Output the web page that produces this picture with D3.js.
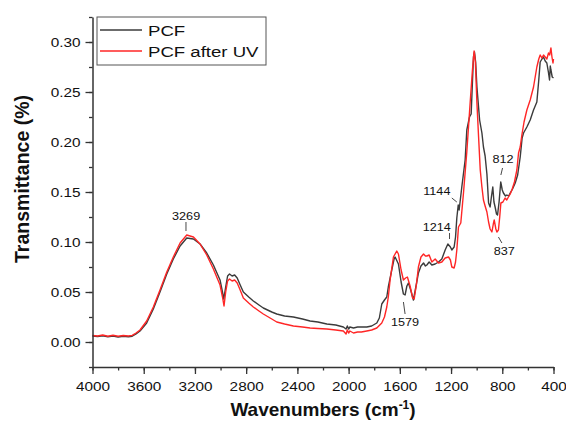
<!DOCTYPE html>
<html>
<head>
<meta charset="utf-8">
<script src="https://cdn.jsdelivr.net/npm/d3@7"></script>
<style>
html,body{margin:0;padding:0;background:#fff;}
svg{display:block;}
text{font-family:"Liberation Sans",Arial,sans-serif;fill:#111;}
</style>
</head>
<body>
<svg id="chart" width="566" height="423"></svg>
<script>
// ---------- data ----------
const seriesNames = ["PCF", "PCF after UV"];

const pcfWavenumbers = [4000,3960,3920,3880,3840,3800,3760,3720,3690,3660,3629,3577,3525,3473,3420,3369,3316,3264,3212,3160,3108,3056,3004,2985,2975,2960,2945,2930,2910,2890,2870,2850,2822,2780,2744,2700,2666,2600,2561,2500,2431,2360,2301,2240,2170,2100,2041,2020,2010,2000,1990,1962,1930,1900,1858,1820,1780,1760,1741,1720,1702,1690,1663,1645,1637,1611,1590,1572,1559,1545,1533,1515,1494,1475,1455,1435,1415,1400,1389,1371,1350,1324,1298,1272,1246,1225,1205,1194,1176,1165,1155,1144,1137,1116,1090,1077,1056,1043,1033,1025,1017,1008,998,977,959,947,934,920,907,895,885,874,865,856,845,837,825,812,800,791,775,764,750,738,720,699,680,660,645,634,608,582,556,530,515,504,490,478,465,452,440,431,425,420,410,400];
const pcfValues = [0.0060,0.0055,0.0062,0.0052,0.0060,0.0050,0.0058,0.0052,0.0058,0.0080,0.0110,0.0190,0.0330,0.0500,0.0680,0.0830,0.0960,0.1040,0.1030,0.0980,0.0890,0.0770,0.0620,0.0500,0.0430,0.0550,0.0660,0.0680,0.0660,0.0670,0.0640,0.0580,0.0500,0.0450,0.0410,0.0370,0.0340,0.0300,0.0280,0.0260,0.0250,0.0230,0.0210,0.0200,0.0180,0.0170,0.0150,0.0130,0.0160,0.0130,0.0150,0.0140,0.0150,0.0150,0.0150,0.0160,0.0190,0.0240,0.0380,0.0420,0.0450,0.0550,0.0720,0.0830,0.0850,0.0780,0.0600,0.0480,0.0470,0.0560,0.0590,0.0520,0.0420,0.0550,0.0690,0.0760,0.0790,0.0760,0.0770,0.0800,0.0770,0.0780,0.0800,0.0830,0.0920,0.0980,0.0950,0.0920,0.0950,0.1050,0.1240,0.1370,0.1320,0.1550,0.1820,0.2120,0.2250,0.2280,0.2600,0.2850,0.2900,0.2800,0.2550,0.2220,0.2090,0.1950,0.1860,0.1680,0.1390,0.1350,0.1450,0.1550,0.1400,0.1350,0.1280,0.1270,0.1400,0.1600,0.1520,0.1490,0.1460,0.1470,0.1460,0.1490,0.1530,0.1590,0.1670,0.1850,0.2040,0.2090,0.2150,0.2220,0.2320,0.2400,0.2620,0.2800,0.2830,0.2850,0.2810,0.2790,0.2700,0.2620,0.2760,0.2720,0.2650,0.2640];

const uvWavenumbers = [4000,3960,3920,3880,3840,3800,3760,3720,3690,3660,3629,3577,3525,3473,3420,3369,3316,3264,3212,3160,3108,3056,3004,2985,2973,2960,2945,2930,2910,2890,2870,2850,2822,2780,2744,2700,2666,2600,2561,2500,2431,2360,2301,2240,2170,2100,2041,2020,2010,2000,1990,1962,1930,1900,1858,1820,1780,1741,1720,1702,1690,1676,1650,1624,1611,1590,1572,1555,1541,1520,1500,1488,1470,1455,1435,1415,1400,1389,1371,1350,1324,1298,1272,1246,1220,1205,1194,1176,1165,1155,1142,1124,1103,1077,1051,1033,1020,1010,998,985,972,959,947,934,920,907,895,881,870,863,850,842,830,820,811,795,778,765,752,738,725,705,686,673,660,647,630,608,582,556,530,515,504,490,478,465,452,439,430,420,412,404,400];
const uvValues = [0.0065,0.0060,0.0070,0.0058,0.0068,0.0058,0.0065,0.0060,0.0066,0.0090,0.0120,0.0210,0.0350,0.0520,0.0700,0.0850,0.0990,0.1070,0.1050,0.0980,0.0870,0.0730,0.0570,0.0450,0.0360,0.0500,0.0610,0.0630,0.0610,0.0620,0.0590,0.0530,0.0440,0.0390,0.0350,0.0310,0.0280,0.0230,0.0200,0.0180,0.0160,0.0150,0.0140,0.0135,0.0130,0.0120,0.0110,0.0080,0.0120,0.0090,0.0110,0.0090,0.0100,0.0100,0.0110,0.0120,0.0140,0.0190,0.0250,0.0350,0.0450,0.0620,0.0850,0.0910,0.0880,0.0720,0.0620,0.0640,0.0650,0.0560,0.0440,0.0430,0.0580,0.0750,0.0850,0.0880,0.0860,0.0860,0.0870,0.0800,0.0830,0.0790,0.0800,0.0840,0.0850,0.0820,0.0750,0.0740,0.0800,0.0920,0.1150,0.1190,0.1490,0.1900,0.2390,0.2720,0.2910,0.2800,0.2390,0.2050,0.1720,0.1550,0.1420,0.1360,0.1300,0.1200,0.1130,0.1100,0.1180,0.1220,0.1130,0.1100,0.1120,0.1250,0.1390,0.1400,0.1440,0.1420,0.1450,0.1480,0.1520,0.1600,0.1720,0.1890,0.1950,0.2070,0.2200,0.2320,0.2420,0.2550,0.2750,0.2830,0.2870,0.2840,0.2870,0.2850,0.2830,0.2890,0.2870,0.2940,0.2850,0.2790,0.2830];

const xTickValues = [4000,3600,3200,2800,2400,2000,1600,1200,800,400];
const yTickValues = [0.00,0.05,0.10,0.15,0.20,0.25,0.30];

// peak annotations: label, text anchor (wavenumber, value), pointer line (wn1,v1,wn2,v2)
const peakLabels = ["3269","1579","1214","1144","812","837"];
const peakTextWn = [3269,1559,1311,1311,795,785];
const peakTextVal = [0.122,0.016,0.111,0.147,0.1795,0.087];
const peakLineFrom = [[3270,0.120],[1572,0.040],[1212,0.109],[1194,0.144],[798,0.174],[830,0.105]];
const peakLineTo = [[3270,0.111],[1559,0.028],[1212,0.103],[1155,0.140],[811,0.167],[803,0.099]];

// ---------- layout ----------
const svg = d3.select("#chart");
const x = d3.scaleLinear().domain([4000, 400]).range([92.5, 553.5]);
const y = d3.scaleLinear().domain([-0.025, 0.325]).range([367, 17]);
const colors = ["#3b3b3b", "#ff2626"];
const axisColor = "#333";
const SX = 1.18;

// curves
const line = d3.line().x(d => x(d[0])).y(d => y(d[1]));
const pcf = pcfWavenumbers.map((w, i) => [w, pcfValues[i]]);
const uv = uvWavenumbers.map((w, i) => [w, uvValues[i]]);
svg.append("path").datum(pcf).attr("d", line).attr("fill", "none")
  .attr("stroke", colors[0]).attr("stroke-width", 1.4).attr("stroke-linejoin", "round");
svg.append("path").datum(uv).attr("d", line).attr("fill", "none")
  .attr("stroke", colors[1]).attr("stroke-width", 1.4).attr("stroke-linejoin", "round");

// axes
function styleAxis(g) {
  g.select(".domain").attr("stroke", axisColor).attr("stroke-width", 1.5);
  g.selectAll(".tick line").attr("stroke", axisColor).attr("stroke-width", 1.3);
}
const xMinor = d3.range(4000, 399, -200);
const yMinor = d3.range(-0.025, 0.3251, 0.025);

const gxMinor = svg.append("g").attr("transform", "translate(0,367)")
  .call(d3.axisBottom(x).tickValues(xMinor).tickSize(3.5).tickFormat("").tickSizeOuter(0));
gxMinor.select(".domain").remove();
gxMinor.selectAll(".tick line").attr("stroke", axisColor).attr("stroke-width", 1.3);

const gyMinor = svg.append("g").attr("transform", "translate(92.5,0)")
  .call(d3.axisLeft(y).tickValues(yMinor).tickSize(3.5).tickFormat("").tickSizeOuter(0));
gyMinor.select(".domain").remove();
gyMinor.selectAll(".tick line").attr("stroke", axisColor).attr("stroke-width", 1.3);

const gx = svg.append("g").attr("transform", "translate(0,367)")
  .call(d3.axisBottom(x).tickValues(xTickValues).tickSize(7).tickSizeOuter(0).tickFormat(d3.format("d")));
styleAxis(gx);
gx.selectAll(".tick text")
  .attr("y", 0).attr("dy", 0)
  .attr("transform", `translate(0,23.5) scale(${SX},1)`)
  .style("font-family", '"Liberation Sans",Arial,sans-serif')
  .style("font-size", "13px").attr("fill", "#111");

const gy = svg.append("g").attr("transform", "translate(92.5,0)")
  .call(d3.axisLeft(y).tickValues(yTickValues).tickSize(7).tickSizeOuter(0).tickFormat(d3.format(".2f")));
styleAxis(gy);
gy.selectAll(".tick text")
  .attr("x", 0).attr("dy", "0.35em")
  .attr("transform", `translate(-12,0) scale(${SX},1)`)
  .style("font-family", '"Liberation Sans",Arial,sans-serif')
  .style("font-size", "13px").attr("fill", "#111");

// axis titles
const xt = svg.append("text").attr("text-anchor", "middle")
  .attr("transform", "translate(323,416)")
  .style("font-size", "19px").style("font-weight", "bold");
xt.append("tspan").text("Wavenumbers (cm");
xt.append("tspan").attr("dy", -7).style("font-size", "12px").text("-1");
xt.append("tspan").attr("dy", 7).text(")");

svg.append("text").attr("text-anchor", "middle")
  .attr("transform", "translate(29,179) rotate(-90)")
  .style("font-size", "19.5px").style("font-weight", "bold")
  .text("Transmittance (%)");

// annotations
const ann = svg.append("g");
peakLabels.forEach((lab, i) => {
  ann.append("line")
    .attr("x1", x(peakLineFrom[i][0])).attr("y1", y(peakLineFrom[i][1]))
    .attr("x2", x(peakLineTo[i][0])).attr("y2", y(peakLineTo[i][1]))
    .attr("stroke", "#333").attr("stroke-width", 0.9);
  ann.append("text")
    .attr("text-anchor", "middle")
    .attr("transform", `translate(${x(peakTextWn[i])},${y(peakTextVal[i])}) scale(1.15,1)`)
    .style("font-size", "11px").attr("fill", "#111")
    .text(lab);
});

// legend
const lg = svg.append("g");
lg.append("rect").attr("x", 97).attr("y", 17).attr("width", 169).attr("height", 48)
  .attr("fill", "#fff").attr("stroke", "#555").attr("stroke-width", 1);
seriesNames.forEach((name, i) => {
  const yy = 30 + i * 21;
  lg.append("line").attr("x1", 100).attr("x2", 142).attr("y1", yy).attr("y2", yy)
    .attr("stroke", colors[i]).attr("stroke-width", 1.4);
  lg.append("text").attr("transform", `translate(148,${yy + 5.8}) scale(1.2,1)`)
    .style("font-size", "15.5px").attr("fill", "#111").text(name);
});
</script>
</body>
</html>
